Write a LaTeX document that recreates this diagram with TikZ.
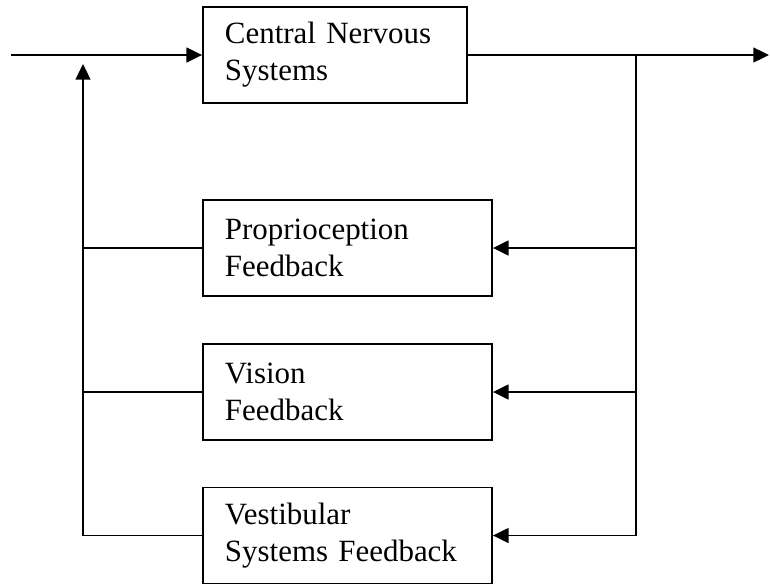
\documentclass[tikz,border=0pt]{standalone}
\usepackage{fontspec}
\setmainfont{Liberation Serif}
\usepackage{tikz}
\usetikzlibrary{arrows.meta,positioning}
\tikzset{
  >={Triangle[length=3.9mm,width=3.7mm]},
  block/.style={draw,line width=1.3pt,align=left,inner xsep=5.5mm,inner ysep=0pt,minimum height=24mm,font=\fontsize{22}{26.3}\selectfont},
  cnsblock/.style={block,text width=55mm},
  fbblock/.style={block,text width=61.25mm},
  flow/.style={->,line width=1.2pt},
  wire/.style={line width=1.2pt,line cap=rect},
}

\begin{document}
\begin{tikzpicture}[x=0.25mm,y=-0.25mm]
  \useasboundingbox (0,0) rectangle (770,584);
  \node[cnsblock] (cns) at (335,55) {Central Nervous\\Systems};
  \node[fbblock] (prop) at (347.5,248) {Proprioception\\Feedback};
  \node[fbblock] (vis) at (347.5,392) {Vision\\Feedback};
  \node[fbblock] (vest) at (347.5,535.5) {Vestibular\\Systems Feedback};
  \coordinate (in) at (11,55);
  \coordinate (out) at (769,55);
  \coordinate (sum) at (83,55);
  \coordinate (tap) at (636,55);
  \draw[flow] (in) -- (cns);
  \draw[flow] (cns) -- (out);
  % feedback paths
  \draw[wire] (tap) -- (tap |- vest);
  \foreach \fb in {prop,vis,vest}{
    \draw[flow] (tap |- \fb) -- (\fb);
    \draw[wire] (\fb) -- (sum |- \fb);
  }
  \draw[flow,shorten >=2.25mm] (sum |- vest) -- (sum);
\end{tikzpicture}
\end{document}
